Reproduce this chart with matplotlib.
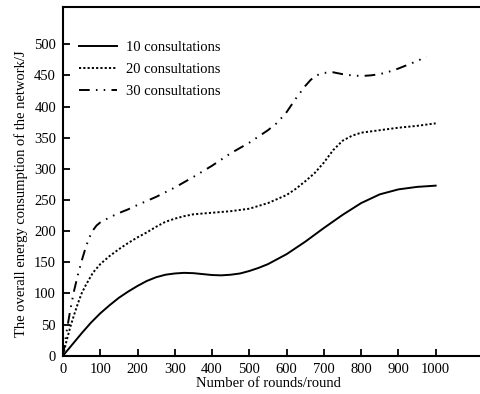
import matplotlib
matplotlib.use("Agg")
import matplotlib.pyplot as plt

plt.rcParams['font.family'] = ['Liberation Serif', 'DejaVu Serif']

# --- data ---
x10 = [0, 25, 50, 75, 100, 125, 150, 175, 200, 225, 250, 275, 300, 325, 350, 375,
       400, 425, 450, 475, 500, 525, 550, 600, 650, 700, 750, 800, 850, 900, 950, 1000]
y10 = [0, 18, 36, 53, 68, 81, 93, 103, 112, 120, 126, 130, 132, 133, 132.5, 131,
       129.5, 129, 130, 132, 136, 141, 147, 163, 183, 205, 226, 245, 259, 267, 271, 273]

x20 = [0, 10, 20, 30, 40, 50, 60, 80, 100, 125, 150, 175, 200, 225, 250, 275, 300,
       325, 350, 400, 450, 500, 550, 600, 625, 650, 675, 700, 725, 750, 775, 800,
       850, 900, 950, 1000]
y20 = [0, 25, 47, 66, 84, 100, 112, 133, 147, 160, 171, 181, 190, 198, 207, 215, 220,
       224, 227, 229.5, 232, 236, 245, 258, 268, 280, 293, 310, 330, 345, 353, 358,
       362, 366, 369, 373]

x30 = [0, 10, 20, 30, 40, 50, 60, 70, 80, 90, 100, 125, 150, 175, 200, 250, 300, 350,
       400, 450, 500, 550, 575, 600, 625, 650, 665, 680, 700, 725, 750, 775, 800, 825,
       850, 875, 900, 925, 950, 975]
y30 = [0, 40, 75, 105, 130, 152, 172, 189, 201, 209, 214, 222, 229, 235, 242, 255, 270,
       287, 305, 325, 342, 362, 374, 391, 413, 433, 443, 450, 454, 455, 452, 450, 449,
       450, 452, 456, 461, 467, 473, 480]

labels = ["10 consultations", "20 consultations", "30 consultations"]
xticks = [0, 100, 200, 300, 400, 500, 600, 700, 800, 900, 1000]
yticks = [0, 50, 100, 150, 200, 250, 300, 350, 400, 450, 500]
xlabel = "Number of rounds/round"
ylabel = "The overall energy consumption of the network/J"

fig = plt.figure(figsize=(4.8, 3.94), dpi=100)
ax = fig.add_axes([63/480, 1 - 355.7/394, 417/480, 348.2/394])

lw = 1.4
ax.plot(x10, y10, color='black', lw=lw, linestyle='-', label=labels[0])
ax.plot(x20, y20, color='black', lw=lw, linestyle=(0, (1.1, 1.1)), label=labels[1])
ax.plot(x30, y30, color='black', lw=lw, linestyle=(0, (5.5, 3.2, 0.8, 3.2, 0.8, 3.2)), label=labels[2])

ax.set_xlim(0, 1119)
ax.set_ylim(0, 559)
ax.set_xticks(xticks)
ax.set_yticks(yticks)
ax.tick_params(direction='in', length=5, width=1.3, labelsize=10.5, pad=5)

for s in ['left', 'top', 'bottom']:
    ax.spines[s].set_linewidth(1.5)
ax.spines['right'].set_visible(False)

ax.set_xlabel(xlabel, fontsize=10.5)
ax.set_ylabel(ylabel, fontsize=10.5)
ax.xaxis.set_label_coords(0.4916, -0.062)
ax.yaxis.set_label_coords(-0.083, 0.464)

ax.legend(loc='upper left', bbox_to_anchor=(0.038, 0.905), frameon=False,
          fontsize=10.5, handlelength=2.6, handletextpad=0.65, labelspacing=0.62,
          borderaxespad=0, borderpad=0)

fig.savefig("out.png", dpi=100)
